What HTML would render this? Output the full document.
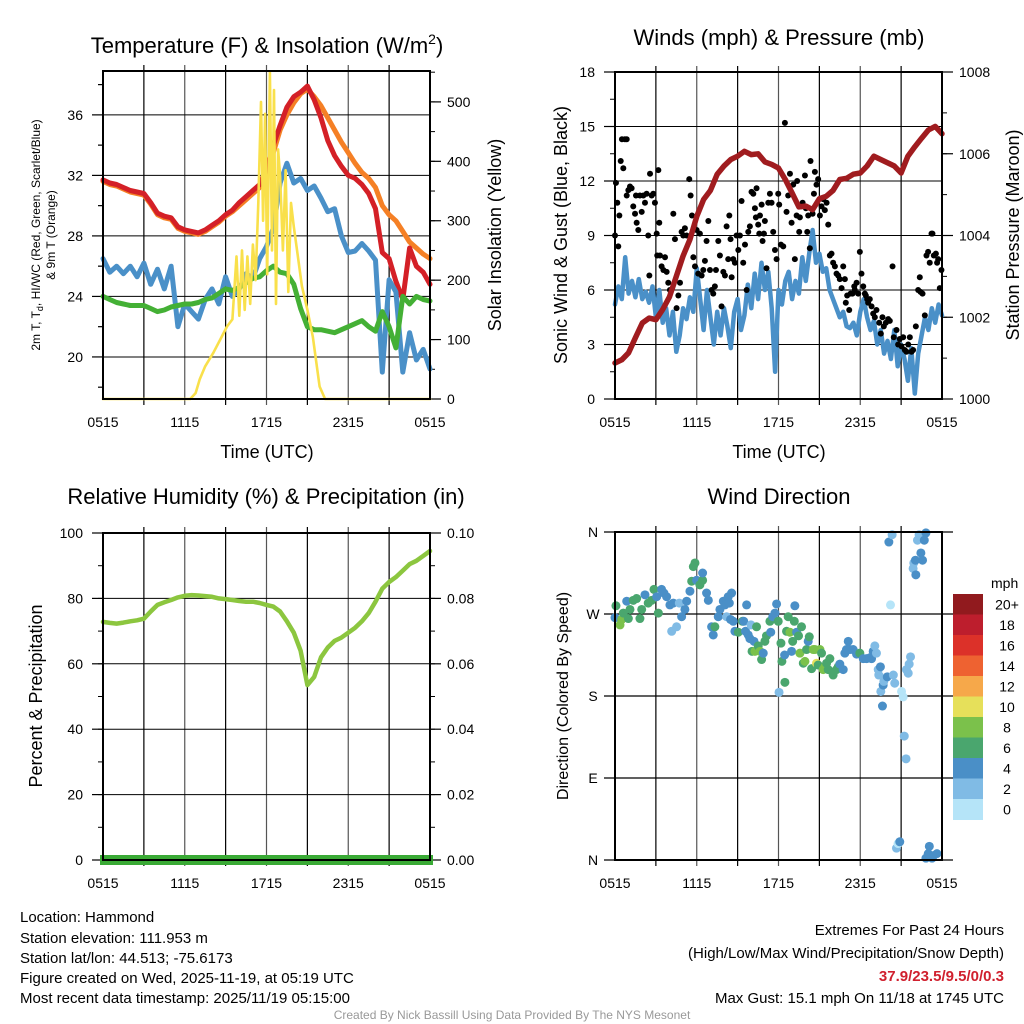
<!DOCTYPE html>
<html><head><meta charset="utf-8"><style>
html,body{margin:0;padding:0;background:#fff;}
svg{display:block;font-family:"Liberation Sans",Arial,sans-serif;}
</style></head><body>
<svg id="svg" width="1024" height="1024" viewBox="0 0 1024 1024">
<rect x="0" y="0" width="1024" height="1024" fill="#fff"/>
<g id="g1"></g>
<g id="g2"></g>
<g id="g3"></g>
<g id="g4"></g>
<text x="267" y="53" font-size="22" text-anchor="middle">Temperature (F) &amp; Insolation (W/m<tspan dy="-9" font-size="14">2</tspan><tspan dy="9">)</tspan></text>
<text x="779" y="45" font-size="22" text-anchor="middle">Winds (mph) &amp; Pressure (mb)</text>
<text x="266" y="504" font-size="22" text-anchor="middle">Relative Humidity (%) &amp; Precipitation (in)</text>
<text x="779" y="504" font-size="22" text-anchor="middle">Wind Direction</text>
<text transform="translate(40,235) rotate(-90)" font-size="12" text-anchor="middle">2m T, T<tspan dy="3" font-size="9">d</tspan><tspan dy="-3">, HI/WC (Red, Green, Scarlet/Blue)</tspan></text>
<text transform="translate(55,235) rotate(-90)" font-size="12" text-anchor="middle">&amp; 9m T (Orange)</text>
<text transform="translate(501,235) rotate(-90)" font-size="18" text-anchor="middle">Solar Insolation (Yellow)</text>
<text x="267" y="458" font-size="18" text-anchor="middle">Time (UTC)</text>
<text x="779" y="458" font-size="18" text-anchor="middle">Time (UTC)</text>
<text transform="translate(567,235) rotate(-90)" font-size="18" text-anchor="middle">Sonic Wind &amp; Gust (Blue, Black)</text>
<text transform="translate(1019,235) rotate(-90)" font-size="18" text-anchor="middle">Station Pressure (Maroon)</text>
<text transform="translate(42,696) rotate(-90)" font-size="18" text-anchor="middle">Percent &amp; Precipitation</text>
<text transform="translate(568,696) rotate(-90)" font-size="16" text-anchor="middle">Direction (Colored By Speed)</text>
<g font-size="15">
<text x="20" y="922">Location: Hammond</text>
<text x="20" y="943">Station elevation: 111.953 m</text>
<text x="20" y="963">Station lat/lon: 44.513; -75.6173</text>
<text x="20" y="983">Figure created on Wed, 2025-11-19, at 05:19 UTC</text>
<text x="20" y="1003">Most recent data timestamp: 2025/11/19 05:15:00</text>
</g>
<g font-size="15" text-anchor="end">
<text x="1004" y="935">Extremes For Past 24 Hours</text>
<text x="1004" y="958">(High/Low/Max Wind/Precipitation/Snow Depth)</text>
<text x="1004" y="981" fill="#d0202e" font-weight="bold">37.9/23.5/9.5/0/0.3</text>
<text x="1004" y="1003">Max Gust: 15.1 mph On 11/18 at 1745 UTC</text>
</g>
<text x="512" y="1019" font-size="12" fill="#999" text-anchor="middle">Created By Nick Bassill Using Data Provided By The NYS Mesonet</text>
</svg>
<script>
// ---- data ----
const xTickLabels = ["0515","1115","1715","2315","0515"];
const halfHours = []; for (let i=0;i<=48;i++) halfHours.push(i/2);
const quarterHours = []; for (let i=0;i<=96;i++) quarterHours.push(i/4);
const tempRed = [31.7,31.5,31.4,31.2,31.0,30.9,30.8,30.2,29.5,29.3,29.2,28.6,28.4,28.3,28.2,28.4,28.7,29.0,29.4,29.7,30.2,30.6,31.0,31.4,32.4,34.0,35.3,36.5,37.2,37.5,37.9,37.0,35.8,34.3,33.3,32.6,32.0,31.8,31.4,30.8,29.8,26.9,26.5,25.0,23.8,27.2,26.0,25.6,24.8];
const tempOrange = [31.6,31.4,31.3,31.1,30.9,30.8,30.7,30.1,29.4,29.2,29.1,28.5,28.3,28.2,28.1,28.3,28.6,28.9,29.3,29.6,30.0,30.4,30.8,31.2,32.0,33.5,35.0,36.0,36.8,37.4,37.7,37.2,36.6,35.8,35.0,34.2,33.5,32.8,32.2,31.8,31.2,30.0,29.4,29.0,28.3,27.6,27.2,26.8,26.5];
const tempBlue = [26.5,25.6,26.0,25.5,26.0,25.3,26.2,24.8,25.8,24.5,26.0,22.0,23.5,23.0,22.5,23.8,24.5,23.5,25.3,24.0,24.5,25.5,25.2,26.5,27.3,28.5,31.5,32.8,31.5,31.8,31.0,31.3,30.5,29.6,29.8,28.0,26.9,27.0,27.5,27.0,26.4,19.0,25.1,24.3,19.0,21.6,19.8,20.5,19.2];
const tempGreen = [24.0,23.8,23.6,23.5,23.4,23.4,23.4,23.2,23.0,23.1,23.3,23.4,23.5,23.5,23.6,23.8,23.9,24.2,24.5,24.4,24.6,24.9,25.2,25.3,25.7,26.0,25.6,25.5,24.8,23.2,22.0,21.8,21.8,21.7,21.6,21.8,22.0,22.2,22.4,22.0,21.7,23.0,22.0,20.6,24.0,23.5,24.0,23.8,23.7];
const solarHours = [0,6.4,6.8,7.1,7.5,8.1,8.6,9.1,9.5,9.8,10.0,10.2,10.4,10.6,10.8,11.0,11.2,11.4,11.6,11.75,11.9,12.05,12.25,12.4,12.55,12.7,12.85,13.0,13.2,13.4,13.6,13.8,14.0,14.2,14.6,15.0,15.4,15.9,16.3,24];
const solarValues = [0,0,10,33,55,78,100,122,134,240,140,250,150,240,160,260,200,330,500,300,480,210,550,250,520,160,420,375,250,385,180,330,290,257,190,150,105,21,0,0];
const windSpeed = [5.2,6.2,5.5,7.8,5.8,6.5,5.6,6.6,5.5,5.9,5.3,6.2,4.5,6.0,4.2,5.0,3.5,4.8,2.6,3.5,5.0,4.4,5.6,4.8,7.2,5.5,3.8,6.0,4.5,3.0,4.8,3.5,5.0,4.0,2.8,4.8,5.5,3.8,4.6,6.3,5.0,6.9,5.5,7.5,6.0,7.0,5.0,1.5,6.0,5.2,6.5,7.0,5.5,6.5,5.8,7.8,6.5,8.0,9.3,7.5,8.0,7.0,7.2,6.0,5.5,5.0,4.5,4.8,4.0,3.9,4.2,3.5,4.8,5.5,4.5,3.8,4.3,3.0,3.8,2.5,3.2,2.2,3.8,1.8,3.0,2.2,1.0,2.8,0.3,2.5,3.5,4.5,3.8,5.0,4.2,5.2,4.6];
const pressure = [1000.88,1000.96,1001.13,1001.5,1001.86,1001.98,1001.94,1002.19,1002.5,1003.0,1003.5,1003.9,1004.47,1004.88,1005.1,1005.5,1005.7,1005.86,1005.94,1006.06,1005.98,1006.0,1005.8,1005.74,1005.65,1005.37,1005.04,1004.7,1004.72,1004.63,1004.9,1004.96,1005.1,1005.37,1005.4,1005.5,1005.53,1005.7,1005.94,1005.86,1005.78,1005.7,1005.53,1005.94,1006.17,1006.38,1006.58,1006.67,1006.49];
const gustHours = [0,.07,.17,.24,.32,.42,.51,.61,.73,.86,.86,.98,1.1,1.22,1.34,1.47,1.54,1.59,1.71,1.83,1.96,2.08,2.2,2.32,2.44,2.52,2.57,2.69,2.81,2.93,3.06,3.1,3.18,3.25,3.3,3.42,3.55,3.67,3.79,3.91,4.03,4.28,4.4,4.52,4.65,4.77,4.89,5.01,5.13,5.26,5.45,5.55,5.65,5.75,5.87,5.99,6.11,6.23,6.36,6.48,6.6,6.72,6.85,6.97,7.09,7.21,7.33,7.41,7.58,7.7,7.82,7.95,8.07,8.19,8.31,8.39,8.48,8.56,8.68,8.8,8.92,9.05,9.17,9.29,9.41,9.54,9.66,9.78,9.9,10.02,10.15,10.27,10.34,10.39,10.51,10.59,10.64,10.76,10.83,10.93,11.0,11.12,11.25,11.37,11.49,11.61,11.74,11.86,11.98,12.05,12.18,12.35,12.47,12.59,12.71,12.84,12.96,13.08,13.2,13.33,13.37,13.52,13.57,13.62,13.77,13.94,14.01,14.11,14.18,14.3,14.35,14.5,14.6,14.67,14.79,14.91,15.04,15.16,15.28,15.4,15.53,15.65,15.77,15.89,16.01,16.14,16.26,16.38,16.5,16.63,16.75,16.87,16.94,17.04,17.19,17.29,17.43,17.56,17.6,17.73,17.85,17.97,18.09,18.22,18.34,18.41,18.51,18.58,18.7,18.83,18.95,19.07,19.19,19.39,19.51,19.63,19.73,19.88,20.05,20.17,20.37,20.46,20.66,20.78,20.9,21.03,21.15,21.27,21.39,21.52,21.64,21.76,21.88,22.08,22.25,22.37,22.42,22.57,22.74,22.86,22.98,23.1,23.23,23.3,23.4,23.55,23.64,23.72,23.84,23.96];
const gustMph = [9.0,11.9,10.8,8.4,10.1,13.1,14.3,12.7,14.3,14.3,11.2,11.5,11.7,11.6,10.6,10.2,11.2,9.7,9.3,11.2,10.3,11.2,10.8,11.3,9.0,6.8,12.4,11.2,11.3,10.8,9.1,7.9,12.6,9.7,7.9,7.3,7.1,7.8,7.0,6.4,6.0,10.2,8.8,5.0,5.7,6.4,9.2,9.0,9.4,9.0,12.1,11.2,10.1,7.8,7.3,9.3,6.9,9.1,6.8,7.1,7.6,8.7,9.8,7.1,6.0,5.8,6.2,7.1,8.7,7.9,5.1,7.0,6.8,9.5,7.7,10.1,8.8,6.7,7.7,7.5,9.0,8.2,9.0,10.9,7.5,8.5,6.0,9.2,9.5,11.4,11.3,10.5,10.0,11.6,9.6,9.1,10.1,10.7,8.7,9.1,9.8,7.2,10.8,11.3,10.8,9.2,8.2,7.7,11.3,10.7,8.5,8.4,15.2,10.3,11.2,12.4,9.7,11.8,7.7,10.1,12.0,9.2,10.0,10.6,10.8,12.3,10.5,9.2,10.1,8.3,13.1,10.2,11.3,12.5,11.8,12.1,10.1,10.6,11.0,10.4,10.8,9.6,7.9,8.0,7.5,7.3,6.9,6.8,6.6,6.1,7.3,6.6,5.3,5.7,4.9,5.8,5.8,6.2,6.0,6.4,5.8,8.1,6.9,6.2,5.8,5.7,5.5,5.3,5.5,5.1,4.7,4.5,4.9,4.2,3.6,4.5,4.0,4.2,4.4,4.3,7.3,3.4,3.8,3.0,3.3,2.9,3.4,2.7,2.6,3.0,3.4,2.6,2.7,4.0,6.0,6.7,5.9,5.8,4.6,7.9,8.1,7.5,9.1,9.1,7.9,8.0,7.5,7.7,6.1,7.1];
const rhValues = [72.8,72.5,72.3,72.6,73.0,73.3,73.8,76.0,78.0,78.8,79.5,80.3,80.8,81.0,80.9,80.7,80.5,80.0,79.8,79.5,79.2,79.0,79.0,78.6,78.0,77.5,76.0,73.0,69.5,64.0,53.5,56.0,62.0,65.0,67.0,68.0,69.5,71.0,73.0,75.5,79.0,83.0,85.0,86.5,88.5,90.5,91.5,93.0,94.5];
const dirHours = [0,.07,.37,.49,.61,.86,.98,1.1,1.34,1.59,1.83,1.96,2.2,2.44,2.69,2.86,3.06,3.18,3.42,3.59,3.79,4.03,4.16,4.28,4.52,4.72,4.89,5.13,5.26,5.5,5.63,5.75,5.87,5.99,6.23,6.43,6.43,6.72,6.85,7.09,7.21,7.33,7.58,7.7,7.95,8.07,8.19,8.31,8.39,8.48,8.56,8.68,8.8,9.05,9.36,9.45,9.58,9.66,9.78,9.9,9.98,10.06,10.2,10.27,10.39,10.51,10.64,10.76,10.88,11.0,11.12,11.37,11.43,11.58,11.74,11.86,11.98,12.04,12.18,12.25,12.45,12.47,12.59,12.71,12.84,12.96,13.04,13.16,13.2,13.33,13.47,13.57,13.69,13.82,13.94,14.06,14.18,14.26,14.43,14.55,14.67,14.79,14.91,15.04,15.16,15.28,15.4,15.53,15.65,15.77,16.01,16.26,16.38,16.5,16.75,16.87,16.99,17.12,17.24,17.48,17.73,17.97,18.22,18.46,18.71,18.83,18.95,19.07,19.19,19.32,19.36,19.48,19.51,19.63,19.68,19.73,19.98,20.1,20.22,20.34,20.43,20.53,20.66,20.78,20.9,21.03,21.15,21.23,21.36,21.39,21.52,21.59,21.69,21.88,21.93,22.08,22.05,22.2,22.32,22.45,22.57,22.7,22.82,22.82,22.99,23.07,23.14,23.27,23.39,23.63,23.95];
const dirDeg = [266,279,258,264,271,284,265,275,285,287,265,275,291,282,285,297,289,271,297,293,289,280,251,282,256,282,267,275,284,295,306,322,326,307,302,307,315,293,285,256,247,256,267,275,284,280,267,289,282,264,293,262,251,250,262,262,251,280,247,243,258,229,240,229,256,235,229,220,227,240,246,262,250,267,271,281,262,184,238,218,225,195,251,267,250,229,240,262,279,250,246,227,256,216,218,231,240,245,210,231,231,216,214,231,227,209,212,216,209,221,203,209,212,215,209,227,231,240,231,231,226,227,221,221,222,221,229,235,227,209,203,212,185,169,192,196,201,349,280,357,203,194,13,18,20,185,179,136,111,209,205,215,223,320,326,313,329,351,357,337,329,351,359,2,7,15,4,2,5,7];
const dirSpeed = [4.5,6.5,8.5,8.5,6.5,4.5,6.5,6.5,6.5,6.5,6.5,6.5,4.5,6.5,6.5,6.5,4.5,6.5,4.5,4.5,4.5,4.5,3,4.5,3,3,4.5,4.5,4.5,4.5,6.5,6.5,6.5,4.5,6.5,6.5,4.5,4.5,4.5,4.5,4.5,6.5,4.5,4.5,4.5,4.5,3,4.5,4.5,4.5,4.5,4.5,4.5,6.5,6.5,4.5,4.5,4.5,4.5,4.5,3,6.5,4.5,8.5,6.5,6.5,8.5,6.5,4.5,6.5,6.5,6.5,4.5,4.5,4.5,4.5,6.5,3,6.5,6.5,4.5,6.5,6.5,6.5,8.5,4.5,6.5,6.5,4.5,4.5,6.5,8.5,6.5,6.5,8.5,6.5,4.5,6.5,6.5,8.5,8.5,10,6.5,8.5,6.5,8.5,8.5,6.5,6.5,6.5,6.5,6.5,6.5,4.5,4.5,4.5,4.5,4.5,4.5,4.5,4.5,6.5,4.5,4.5,4.5,4.5,4.5,3,3,3,3,4.5,3,4.5,4.5,3,4.5,4.5,1,3,3,3,3,1,4.5,1,1,3,3,3,3,3,3,3,3,4.5,4.5,3,3,4.5,4.5,4.5,4.5,4.5,4.5,4.5,4.5,4.5,4.5,4.5,4.5];
const speedBins = [0,2,4,6,8,10,12,14,16,18,20];
const binLabels = ["0","2","4","6","8","10","12","14","16","18","20+"];
const binColors = ["#b5e4f8","#80bbe5","#4a8fc7","#4aa66e","#7bc14b","#e6e05a","#f6a84a","#ee6231","#dc3129","#bd1e2d","#911a1e"];

// ---- helpers ----
const NS="http://www.w3.org/2000/svg";
function mk(tag, parent, attrs){const e=document.createElementNS(NS,tag);for(const k in attrs)e.setAttribute(k,attrs[k]);parent.appendChild(e);return e;}
function scaleX(p,h){return p.x0+(p.x1-p.x0)*h/24;}
function scaleY(p,v,min,max){return p.y1-(p.y1-p.y0)*(v-min)/(max-min);}

const P1={x0:103,x1:430,y0:71,y1:399}, P2={x0:615,x1:942,y0:72,y1:399}, P3={x0:103,x1:430,y0:533,y1:860}, P4={x0:615,x1:942,y0:532,y1:860};

function frame(g,p,name){
  let e;
  for(let i=1;i<8;i++){const x=scaleX(p,i*3);
    e=mk('line',g,{x1:x,x2:x,y1:p.y0-6,y2:p.y1+6,stroke:(i%2?'#000':'#555'),'stroke-width':1.2});
    
    }
  xTickLabels.forEach((t,i)=>{const x=scaleX(p,i*6);
    e=mk('text',g,{x:x,y:p.y1+28,'font-size':14,'text-anchor':'middle'});e.textContent=t;
    
    });
}
function yAxis(g,p,side,min,max,step,minor,fmt,name,grid){
  let e; const x=side==='l'?p.x0:p.x1, d=side==='l'?-1:1;
  for(let v=min;v<=max+1e-9;v+=minor){const y=scaleY(p,v,min,max);
    e=mk('line',g,{x1:x,x2:x+d*5,y1:y,y2:y,stroke:'#000','stroke-width':1});
    
    }
  for(let v=min;v<=max+1e-9;v+=step){const y=scaleY(p,v,min,max);
    if(grid){e=mk('line',g,{x1:p.x0,x2:p.x1,y1:y,y2:y,stroke:'#000','stroke-width':1});
      
      }
    e=mk('line',g,{x1:x,x2:x+d*11,y1:y,y2:y,stroke:'#000','stroke-width':1.2});
    
    
    e=mk('text',g,{x:x+d*(side==='l'?20:17),y:y+5,'font-size':14,'text-anchor':side==='l'?'end':'start'});
    e.textContent=fmt(v);
    
    }
}
function yAxisAt(g,p,side,min,max,vals,labels,name){
  let e;const x=side==='l'?p.x0:p.x1;
  vals.forEach((v,i)=>{const y=scaleY(p,v,min,max);
    e=mk('line',g,{x1:p.x0-11,x2:p.x1+11,y1:y,y2:y,stroke:'#000','stroke-width':1.2});
    
    
    e=mk('text',g,{x:x-22,y:y+5,'font-size':14,'text-anchor':'middle'});e.textContent=labels[i];
    
    });
}
function border(g,p,name){const e=mk('rect',g,{x:p.x0,y:p.y0,width:p.x1-p.x0,height:p.y1-p.y0,fill:'none',stroke:'#000','stroke-width':2});
  
  }
function line(g,p,hs,vs,min,max,color,w,name){
  const n=Math.min(hs.length,vs.length);
  let d='';for(let i=0;i<n;i++)d+=(i?'L':'M')+scaleX(p,hs[i]).toFixed(1)+','+scaleY(p,vs[i],min,max).toFixed(1);
  const e=mk('path',g,{d:d,fill:'none',stroke:color,'stroke-width':w,'stroke-linejoin':'round','stroke-linecap':'round'});
  
  return e;}

// ---- panel 1 ----
const g1=document.getElementById('g1');
frame(g1,P1,'temperature');
(function(){const min=17.22,max=38.9;let e;
  for(let v=18;v<=38;v+=2){const y=scaleY(P1,v,min,max);const major=(v%4===0);
    if(major){e=mk('line',g1,{x1:P1.x0,x2:P1.x1,y1:y,y2:y,stroke:'#000','stroke-width':1});
      
      
      e=mk('text',g1,{x:P1.x0-20,y:y+5,'font-size':14,'text-anchor':'end'});e.textContent=v;
      
      }
    e=mk('line',g1,{x1:P1.x0,x2:P1.x0-(major?11:5),y1:y,y2:y,stroke:'#000','stroke-width':1.2});
    
    }
})();
yAxis(g1,P1,'r',0,552,100,50,v=>v,'solar-y',false);
line(g1,P1,halfHours,tempOrange,17.22,38.9,'#f58025',5,'temp-9m-orange-line');
line(g1,P1,halfHours,tempRed,17.22,38.9,'#d42027',5,'temp-2m-red-line');
line(g1,P1,halfHours,tempBlue,17.22,38.9,'#4a90c8',5,'heat-index-blue-line');
line(g1,P1,halfHours,tempGreen,17.22,38.9,'#44b035',5,'dewpoint-green-line');
line(g1,P1,solarHours,solarValues,0,552,'#f9e04b',2.6,'solar-yellow-line');
border(g1,P1,'temperature');

// ---- panel 2 ----
const g2=document.getElementById('g2');
frame(g2,P2,'wind');
yAxis(g2,P2,'l',0,18,3,1.5,v=>v,'wind-y',true);
yAxis(g2,P2,'r',1000,1008,2,1,v=>v,'pressure-y',false);
line(g2,P2,quarterHours,windSpeed,0,18,'#4a90c8',4.5,'sonic-wind-line');
for(let i=0;i<Math.min(gustHours.length,gustMph.length);i++){
  const e=mk('circle',g2,{cx:scaleX(P2,gustHours[i]),cy:scaleY(P2,gustMph[i],0,18),r:3,fill:'#000'});
  
  }
line(g2,P2,halfHours,pressure,1000,1008,'#a01c1f',5.5,'pressure-line');
border(g2,P2,'wind');

// ---- panel 3 ----
const g3=document.getElementById('g3');
frame(g3,P3,'humidity');
yAxis(g3,P3,'l',0,100,20,10,v=>v,'humidity-y',true);
yAxis(g3,P3,'r',0,0.1,0.02,0.01,v=>v.toFixed(2),'precip-y',false);
line(g3,P3,halfHours,rhValues,0,100,'#8cc63f',4.5,'humidity-line');
(function(){const e=mk('rect',g3,{x:P3.x0-3,y:P3.y1-5,width:P3.x1-P3.x0+6,height:10,fill:'#3aaa35'});
  
  })();
border(g3,P3,'humidity');

// ---- panel 4 ----
const g4=document.getElementById('g4');
frame(g4,P4,'direction');
yAxisAt(g4,P4,'l',0,360,[0,90,180,270,360],["N","E","S","W","N"],'direction-y');
function colorFor(s){let c=binColors[0];speedBins.forEach((b,i)=>{if(s>=b)c=binColors[i];});return c;}
const nDir=Math.min(dirHours.length,dirDeg.length,dirSpeed.length);
for(let i=0;i<nDir;i++){
  const e=mk('circle',g4,{cx:scaleX(P4,dirHours[i]),cy:scaleY(P4,dirDeg[i],0,360),r:4.5,fill:colorFor(dirSpeed[i])});
  
  }
border(g4,P4,'direction');
(function(){let e;const top=594,h=20.5;
  e=mk('text',g4,{x:991,y:588,'font-size':14});e.textContent='mph';
  
  
  for(let i=0;i<11;i++){const k=10-i;const y=top+i*h;
    e=mk('rect',g4,{x:953,y:y,width:30,height:h+0.5,fill:binColors[k]});
    
    
    e=mk('text',g4,{x:1007,y:y+h/2+5,'font-size':14,'text-anchor':'middle'});e.textContent=binLabels[k];
    
    }
})();
</script>
</body></html>
